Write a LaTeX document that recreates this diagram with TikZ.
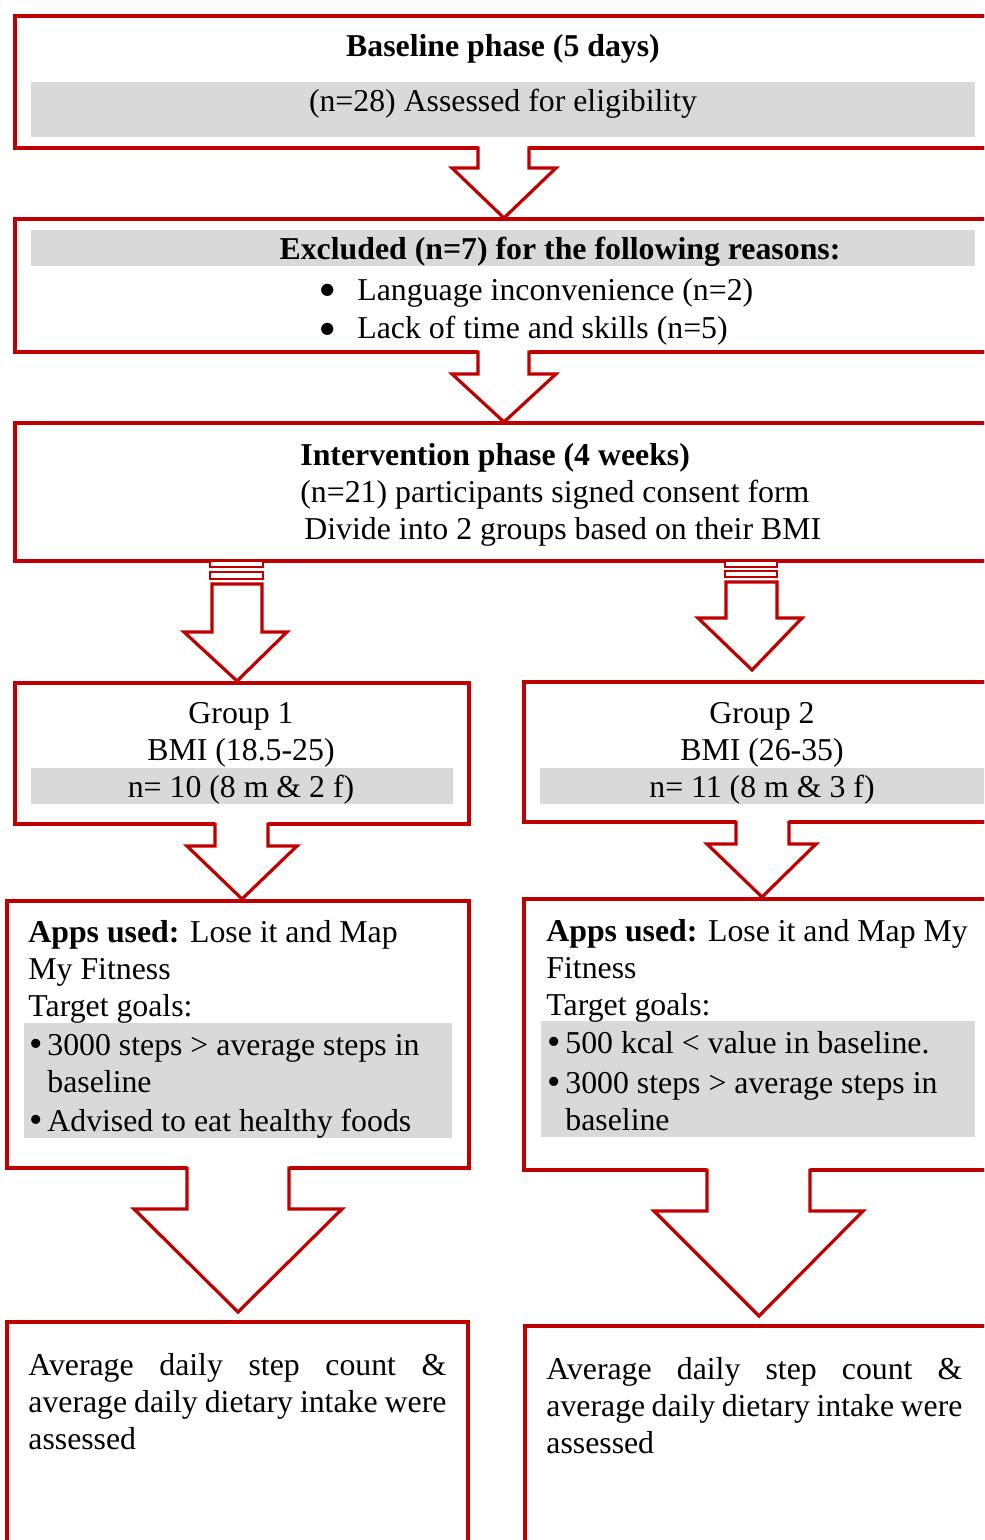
\documentclass[tikz,border=0pt]{standalone}
\usepackage{fontspec}
\setmainfont{Liberation Serif}
\newfontfamily\dejavu{DejaVu Sans}
\usetikzlibrary{fit}
\definecolor{boxred}{RGB}{192,0,0}
\definecolor{band}{RGB}{217,217,217}
\tikzset{
  redline/.style={draw=boxred, line width=1.6pt},
  thinred/.style={draw=boxred, line width=1pt},
  box/.style={redline, rectangle, inner sep=0pt},
  txt/.style={inner sep=0pt, anchor=base, font=\fontsize{15.9}{18.5}\selectfont},
  ltxt/.style={txt, anchor=base west},
}
\newcommand\bigbul{\makebox[18.5pt][l]{\raisebox{2.5pt}{\dejavu\fontsize{8}{9}\selectfont ●}}}
\newcommand\midbul{\makebox[9pt][l]{\raisebox{-0.06em}{\scalebox{1.2}{\textbullet}}}}
% open block arrow: xl xr ytop yhead headl headr tipx tipy
\newcommand\blockarrow[8]{%
  \fill[white] (#1,#3-2) -- (#1,#4) -- (#5,#4) -- (#7,#8) -- (#6,#4) -- (#2,#4) -- (#2,#3-2) -- cycle;
  \draw[redline, line join=miter] (#1,#3-1.5) -- (#1,#4) -- (#5,#4) -- (#7,#8) -- (#6,#4) -- (#2,#4) -- (#2,#3-1.5);
}
\begin{document}
\begin{tikzpicture}[x=0.5pt,y=-0.5pt]
\useasboundingbox (0,0) rectangle (984,1540);
\clip (0,0) rectangle (984,1540);

% boxes
\node[box, fit={(15,16) (1000,148)}] (b1) {};
\node[box, fit={(15,219) (1000,352)}] (b2) {};
\node[box, fit={(15,423) (1000,561)}] (b3) {};
\node[box, fit={(15,683) (469,824)}] (g1) {};
\node[box, fit={(524,682) (1000,822)}] (g2) {};
\node[box, fit={(7,901) (469,1168)}] (a1) {};
\node[box, fit={(524,899) (1000,1170)}] (a2) {};
\node[box, fit={(7,1322) (468,1560)}] (r1) {};
\node[box, fit={(525,1326) (1000,1560)}] (r2) {};

% grey bands
\fill[band] (31,82) rectangle (975,137);
\fill[band] (31,230) rectangle (975,266);
\fill[band] (31,768) rectangle (453,804);
\fill[band] (540,768) rectangle (1000,804);
\fill[band] (24,1023) rectangle (452,1138);
\fill[band] (541,1021) rectangle (975,1137);

% arrows
\blockarrow{478}{529}{148}{168}{452}{556}{504}{218}
\blockarrow{478}{529}{352}{374}{452}{556}{504}{422}
\draw[thinred, fill=white] (210,561) rectangle (263,567);
\draw[thinred, fill=white] (210,572) rectangle (263,579);
\draw[redline, fill=white, line join=miter] (212,584) -- (212,632) -- (184,632) -- (237,681) -- (287,632) -- (262,632) -- (262,584) -- cycle;
\draw[thinred, fill=white] (725,561) rectangle (777,567);
\draw[thinred, fill=white] (725,571) rectangle (777,577);
\draw[redline, fill=white, line join=miter] (726,582) -- (726,618) -- (698,618) -- (752,670) -- (802,618) -- (777,618) -- (777,582) -- cycle;
\blockarrow{215}{268}{824}{846}{187}{297}{242}{899}
\blockarrow{736}{789}{822}{844}{707}{816}{762}{897}
\blockarrow{187}{289}{1168}{1209}{134}{342}{238}{1312}
\blockarrow{707}{810}{1170}{1211}{654}{863}{759}{1316}

% texts
\node[txt] (t1) at (503,57) {\textbf{Baseline phase (5 days)}};
\node[txt] (t2) at (503,112) {(n=28) Assessed for eligibility};
\node[txt] (t3) at (560,260) {\textbf{Excluded (n=7) for the following reasons:}};
\node[ltxt] (t4) at (320,300) {\bigbul Language inconvenience (n=2)};
\node[ltxt] (t5) at (320,339) {\bigbul Lack of time and skills (n=5)};
\node[ltxt] (t6) at (300,465) {\textbf{Intervention phase (4 weeks)}};
\node[ltxt] (t7) at (300,502) {(n=21) participants signed consent form};
\node[ltxt] (t8) at (304,539) {Divide into 2 groups based on their BMI};

\node[txt] (g1a) at (241,723) {Group 1};
\node[txt] (g1b) at (241,760) {BMI (18.5-25)};
\node[txt] (g1c) at (241,797) {n= 10 (8 m \& 2 f)};
\node[txt] (g2a) at (762,723) {Group 2};
\node[txt] (g2b) at (762,760) {BMI (26-35)};
\node[txt] (g2c) at (762,797) {n= 11 (8 m \& 3 f)};

\node[ltxt] (a1a) at (28,942) {\textbf{Apps used:} Lose it and Map};
\node[ltxt] (a1b) at (28,979) {My Fitness};
\node[ltxt] (a1c) at (28,1016) {Target goals:};
\node[ltxt] (a1d) at (29,1055) {\midbul 3000 steps > average steps in};
\node[ltxt] (a1e) at (47,1092) {baseline};
\node[ltxt] (a1f) at (29,1131) {\midbul Advised to eat healthy foods};

\node[ltxt] (a2a) at (546,941) {\textbf{Apps used:} Lose it and Map My};
\node[ltxt] (a2b) at (546,978) {Fitness};
\node[ltxt] (a2c) at (546,1015) {Target goals:};
\node[ltxt] (a2d) at (547,1053) {\midbul 500 kcal < value in baseline.};
\node[ltxt] (a2e) at (547,1093) {\midbul 3000 steps > average steps in};
\node[ltxt] (a2f) at (565,1130) {baseline};

\node[ltxt] (r1a) at (28,1375) {\makebox[209pt][s]{Average daily step count \&}};
\node[ltxt] (r1b) at (28,1412) {\makebox[209pt][s]{average daily dietary intake were}};
\node[ltxt] (r1c) at (28,1449) {assessed};
\node[ltxt] (r2a) at (546,1379) {\makebox[208pt][s]{Average daily step count \&}};
\node[ltxt] (r2b) at (546,1416) {\makebox[208pt][s]{average daily dietary intake were}};
\node[ltxt] (r2c) at (546,1453) {assessed};
\end{tikzpicture}
\end{document}
